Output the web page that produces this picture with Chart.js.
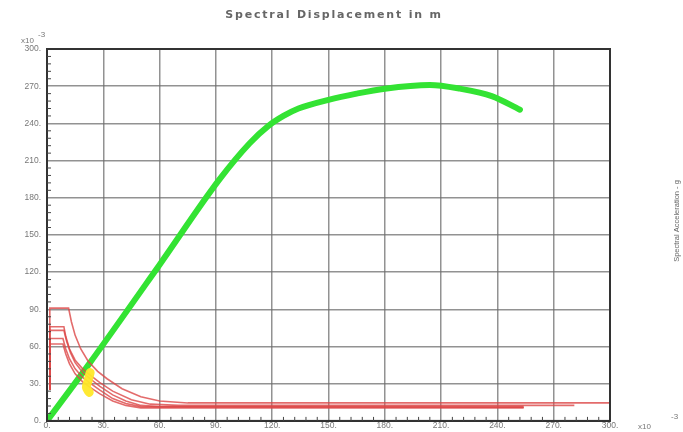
<!DOCTYPE html>
<html>
<head>
<meta charset="utf-8">
<script src="https://cdn.jsdelivr.net/npm/chart.js@4"></script>
<style>
  html, body { margin: 0; padding: 0; background: #fff; }
  #wrap { position: relative; width: 683px; height: 432px; overflow: hidden; }
</style>
</head>
<body>
<div id="wrap"><canvas id="chart" width="683" height="432"></canvas></div>
<script>
// axis ticks (x10^-3)
const xTicks = [0, 30, 60, 90, 120, 150, 180, 210, 240, 270, 300];
const yTicks = [0, 30, 60, 90, 120, 150, 180, 210, 240, 270, 300];

// capacity curve (green)
const capacityX = [0, 22, 60, 92, 108, 118, 126, 134, 150, 165, 180, 204, 220, 237, 252];
const capacityY = [0, 45, 126, 195, 224, 238, 246, 252, 259, 264, 268, 271, 268, 262, 251];

// demand spectra (red)
const demandAX = [1.5, 1.5, 11.5, 13, 15, 18, 22, 27, 32, 40, 50, 60, 75, 300];
const demandAY = [25, 91, 91, 80, 69, 58, 48, 40, 34, 26, 19.5, 16, 14.5, 14.5];
const demandBX = [1.5, 1.5, 9, 10, 12, 15, 19, 23, 28, 35, 45, 55, 70, 281];
const demandBY = [25, 76, 76, 68, 58, 49, 42, 37, 31, 24, 17, 13.5, 12.5, 12.5];
const demandCX = [1.5, 1.5, 9, 10.5, 12.5, 15, 19, 23, 28, 35, 42, 50, 60, 254];
const demandCY = [25, 73, 73, 64, 55, 47, 39, 34, 28, 21, 16, 12.5, 11.5, 11.5];
const demandDX = [1.5, 1.5, 8.5, 10, 12, 15, 19, 23, 28, 35, 42, 50, 254];
const demandDY = [25, 66.5, 66.5, 58, 50, 42, 35, 30.5, 25, 18, 14, 11.5, 11];
const demandEX = [1.5, 1.5, 8.5, 10, 12, 15, 19, 23, 28, 35, 42, 50, 254];
const demandEY = [25, 62, 62, 54, 46, 38, 31.5, 27, 22, 16, 12.5, 10.5, 10.5];

// performance point zone (yellow)
const perfX = [23, 22, 21, 22.5];
const perfY = [39, 33, 27, 23];

const pts = (xs, ys) => xs.map((x, i) => ({ x, y: ys[i] }));

const redStyle = {
  borderColor: 'rgba(220,70,70,0.8)', borderWidth: 1.6, pointRadius: 0,
  showLine: true, fill: false, tension: 0
};

const datasets = [
  { data: pts(perfX, perfY), borderColor: 'rgba(255,232,40,0.95)', borderWidth: 9,
    pointRadius: 0, showLine: true, tension: 0.3, borderCapStyle: 'round' },
  { ...redStyle, data: pts(demandAX, demandAY) },
  { ...redStyle, data: pts(demandBX, demandBY) },
  { ...redStyle, data: pts(demandCX, demandCY) },
  { ...redStyle, data: pts(demandDX, demandDY) },
  { ...redStyle, data: pts(demandEX, demandEY) },
  { data: pts(capacityX, capacityY), borderColor: '#33e333', borderWidth: 6,
    pointRadius: 0, showLine: true, tension: 0.35, cubicInterpolationMode: 'monotone',
    borderCapStyle: 'round' }
];

const labelFont = { family: 'Arial, "Liberation Sans", sans-serif', size: 8.5 };

// frame, minor ticks and the loose texts round the plot
const decor = {
  id: 'decor',
  afterDraw(chart) {
    const { ctx, chartArea: a, scales: { x, y } } = chart;
    ctx.save();
    ctx.strokeStyle = '#333';
    ctx.lineWidth = 2;
    ctx.strokeRect(a.left, a.top, a.right - a.left, a.bottom - a.top);

    ctx.lineWidth = 1;
    ctx.strokeStyle = '#444';
    for (let v = 6; v < 300; v += 6) {
      if (v % 30 === 0) continue;
      const px = x.getPixelForValue(v);
      ctx.beginPath(); ctx.moveTo(px, a.bottom); ctx.lineTo(px, a.bottom - 4); ctx.stroke();
      const py = y.getPixelForValue(v);
      ctx.beginPath(); ctx.moveTo(a.left, py); ctx.lineTo(a.left + 4, py); ctx.stroke();
    }

    ctx.fillStyle = '#666';
    ctx.font = 'bold 11px "DejaVu Sans", Arial, sans-serif';
    ctx.letterSpacing = '1.8px';
    ctx.textAlign = 'center';
    ctx.textBaseline = 'middle';
    ctx.fillText('Spectral Displacement in m', 334, 15);
    ctx.letterSpacing = '0px';

    ctx.font = '8px Arial, "Liberation Sans", sans-serif';
    ctx.fillStyle = '#777';
    ctx.textAlign = 'left';
    ctx.fillText('x10', 21, 41);
    ctx.fillText('-3', 38, 35);
    ctx.fillText('x10', 638, 427);
    ctx.fillText('-3', 671, 417);

    ctx.translate(677, 221);
    ctx.rotate(-Math.PI / 2);
    ctx.textAlign = 'center';
    ctx.font = '7.5px Arial, "Liberation Sans", sans-serif';
    ctx.fillStyle = '#666';
    ctx.fillText('Spectral Acceleration - g', 0, 0);
    ctx.restore();
  }
};

new Chart(document.getElementById('chart'), {
  type: 'scatter',
  data: { datasets },
  options: {
    responsive: false,
    animation: false,
    layout: { padding: { top: 49, right: 73, left: 0, bottom: 0 } },
    plugins: { legend: { display: false }, tooltip: { enabled: false }, title: { display: false } },
    scales: {
      x: {
        type: 'linear', min: 0, max: 300,
        afterBuildTicks: s => { s.ticks = xTicks.map(v => ({ value: v })); },
        afterFit: s => { s.height = 10; },
        ticks: { callback: v => v + '.', font: labelFont, color: '#777', padding: 0, maxRotation: 0 },
        grid: { color: 'rgba(110,110,110,0.75)', lineWidth: 1.5, drawTicks: false },
        border: { color: '#222', width: 2 }
      },
      y: {
        type: 'linear', min: 0, max: 300,
        afterBuildTicks: s => { s.ticks = yTicks.map(v => ({ value: v })); },
        afterFit: s => { s.width = 47; },
        ticks: { callback: v => v + '.', font: labelFont, color: '#777', padding: 6 },
        grid: { color: 'rgba(110,110,110,0.75)', lineWidth: 1.5, drawTicks: false },
        border: { color: '#222', width: 2 }
      }
    }
  },
  plugins: [decor]
});
</script>
</body>
</html>
